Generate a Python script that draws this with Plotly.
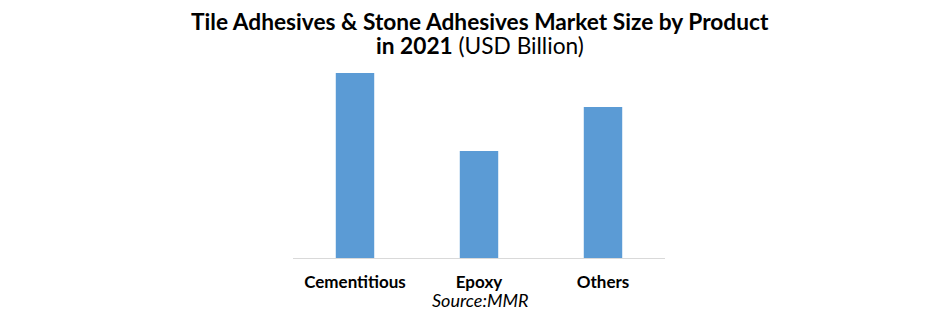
import plotly.graph_objects as go

categories = ["Cementitious", "Epoxy", "Others"]
values = [3.70, 2.14, 3.02]

FONT = "Lato, Open Sans, sans-serif"

fig = go.Figure()
fig.add_trace(go.Bar(
    x=categories, y=values,
    marker=dict(color="#5b9bd5", line=dict(width=0)),
    hoverinfo="x+y",
))

W, H = 941, 314
T, B = 73, 56
ph = H - T - B


def ypx(px):
    return (H - B - px) / ph


fig.update_layout(
    width=W, height=H,
    margin=dict(l=293, r=W - 665, t=T, b=B),
    paper_bgcolor="white", plot_bgcolor="white",
    bargap=0.69,
    showlegend=False,
    font=dict(family=FONT, color="#000000"),
    xaxis=dict(
        showgrid=False, zeroline=False,
        showline=True, linecolor="#d9d9d9", linewidth=1,
        ticks="", tickfont=dict(family=FONT, size=17, color="#000000"),
        tickprefix="<b>", ticksuffix="</b>",
        ticklabelstandoff=9,
    ),
    yaxis=dict(
        range=[0, 3.70], visible=False, showgrid=False, zeroline=False,
    ),
    annotations=[
        dict(text="<b>Tile Adhesives & Stone Adhesives Market Size by Product</b>",
             x=480, xref="paper", xanchor="center", y=ypx(21), yref="paper",
             yanchor="middle", showarrow=False,
             font=dict(family=FONT, size=22.7, color="#000000")),
        dict(text="<b>in 2021</b> (USD Billion)",
             x=480, xref="paper", xanchor="center", y=ypx(46), yref="paper",
             yanchor="middle", showarrow=False,
             font=dict(family=FONT, size=22.7, color="#000000")),
        dict(text="<i>Source:MMR</i>",
             x=480, xref="paper", xanchor="center", y=ypx(300), yref="paper",
             yanchor="middle", showarrow=False,
             font=dict(family=FONT, size=18, color="#000000")),
    ],
)

# convert pixel x positions to paper coords
pw = 665 - 293
anns = list(fig.layout.annotations)
for a in anns:
    a.update(x=(a.x - 293) / pw)
fig.layout.annotations = anns

fig.write_html("out.html")
